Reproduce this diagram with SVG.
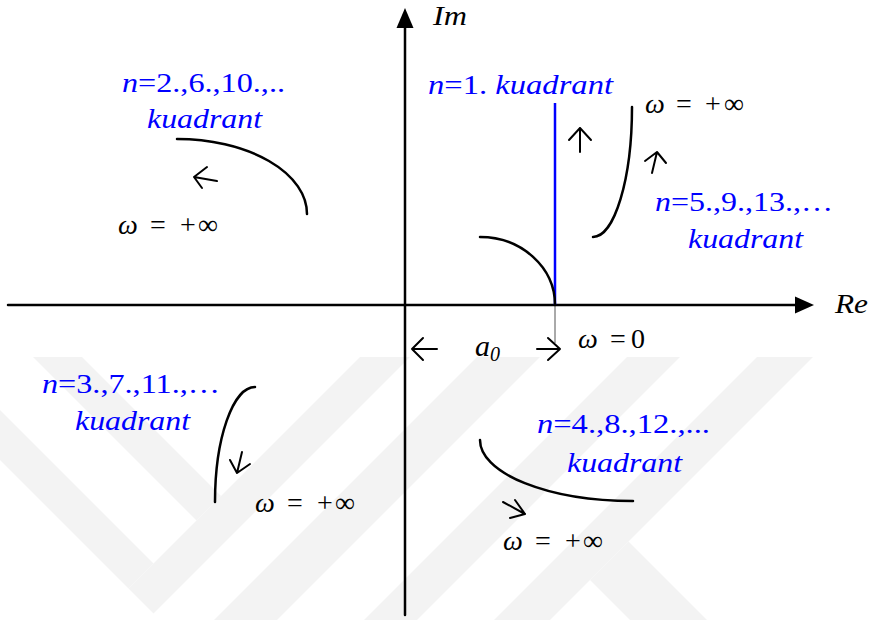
<svg xmlns="http://www.w3.org/2000/svg" width="870" height="620" viewBox="0 0 870 620">
<style>
text{font-family:'Liberation Serif','Times New Roman','DejaVu Serif',serif;}
.b{fill:#0000ff;font-size:27px;}
.k{fill:#000;font-size:28px;}
.i{font-style:italic;}
.ln{fill:none;stroke:#000;stroke-width:2.5;stroke-linecap:round;}
.ar{fill:none;stroke:#000;stroke-width:2;stroke-linecap:round;stroke-linejoin:round;}
.wm{fill:#f3f3f3;stroke:none;}
</style>
<rect width="870" height="620" fill="#fff"/>
<g id="watermark">
<polygon class="wm" points="360,357 410,357 153.5,613.5 128.5,588.5"/>
<polygon class="wm" points="0,410 0,460 128.5,588.5 153.5,563.5"/>
<polygon class="wm" points="33,357 82,357 221,496 196.5,520.5"/>
<polygon class="wm" points="477,357 540,357 277,620 214,620"/>
<polygon class="wm" points="627,357 680,357 417,620 364,620"/>
<polygon class="wm" points="757,357 813,357 550,620 494,620"/>
<polygon class="wm" points="628.5,541.5 707,620 630,620 590,580"/>
</g>
<g id="connectors">
<g id="re-axis"><path class="ln" d="M8,305 H798"/><polygon points="795,296.5 814,305 795,313.5" fill="#000"/></g>
<g id="im-axis"><path class="ln" d="M405,615 V26"/><polygon points="396.5,28 405,8 413.5,28" fill="#000"/></g>
<path d="M555,305 V343" stroke="#555" stroke-width="1" fill="none"/>
<path id="a0-left" class="ar" d="M437,349 H412 M423,338 L412,349 L423,360"/>
<path id="a0-right" class="ar" d="M537,349 H560 M548,338 L560,349 L548,360"/>
</g>
<g id="curve-n1">
<path d="M555,103 V305" stroke="#0000ff" stroke-width="2.5" fill="none"/>
<path class="ln" d="M480,237 A75,68 0 0 1 555,305"/>
<path class="ar" d="M580,152 V128 M569,140 L580,128 L591,140"/>
</g>
<g id="curve-n5">
<path class="ln" d="M593,237 A39,130 0 0 0 632,107"/>
<path class="ar" d="M652,173 L657,152 M645,161 L657,152 L666,163"/>
</g>
<g id="curve-n2">
<path class="ln" d="M177,139 A130,75 0 0 1 307,214"/>
<path class="ar" d="M217,181 L194,177 M207,167 L194,177 L202,188"/>
</g>
<g id="curve-n3">
<path class="ln" d="M255,387 A40,115 0 0 0 215,502"/>
<path class="ar" d="M242,452 L237,473 M230,460 L237,473 L250,464"/>
</g>
<g id="curve-n4">
<path class="ln" d="M480,440 A153,61 0 0 0 633,501"/>
<path class="ar" d="M503,502 L525,514 M515,500 L525,514 L510,518"/>
</g>
<g font-family="'Liberation Serif','Times New Roman',serif">
<g id="label-im"><text class="k i" x="433" y="25" font-size="26" textLength="34" lengthAdjust="spacingAndGlyphs">Im</text></g>
<g id="label-re"><text class="k i" x="835" y="313" textLength="33" lengthAdjust="spacingAndGlyphs">Re</text></g>
<g id="label-n1"><text class="b" x="428" y="94" textLength="185" lengthAdjust="spacingAndGlyphs"><tspan class="i">n</tspan>=1. <tspan class="i">kuadrant</tspan></text></g>
<g id="label-n2">
<text class="b" x="122" y="92" textLength="163" lengthAdjust="spacingAndGlyphs"><tspan class="i">n</tspan>=2.,6.,10.,..</text>
<text class="b i" x="147" y="128" textLength="115" lengthAdjust="spacingAndGlyphs">kuadrant</text>
</g>
<g id="label-n5">
<text class="b" x="655" y="211" textLength="178" lengthAdjust="spacingAndGlyphs"><tspan class="i">n</tspan>=5.,9.,13.,…</text>
<text class="b i" x="688" y="248" textLength="115" lengthAdjust="spacingAndGlyphs">kuadrant</text>
</g>
<g id="label-n3">
<text class="b" x="42" y="393" textLength="178" lengthAdjust="spacingAndGlyphs"><tspan class="i">n</tspan>=3.,7.,11.,…</text>
<text class="b i" x="75" y="430" textLength="115" lengthAdjust="spacingAndGlyphs">kuadrant</text>
</g>
<g id="label-n4">
<text class="b" x="537" y="433" textLength="173" lengthAdjust="spacingAndGlyphs"><tspan class="i">n</tspan>=4.,8.,12.,...</text>
<text class="b i" x="567" y="472" textLength="115" lengthAdjust="spacingAndGlyphs">kuadrant</text>
</g>
<g id="omega-inf-tl"><text class="k" y="234"><tspan class="i" x="118">ω</tspan><tspan x="150">=</tspan><tspan x="180">+</tspan><tspan x="198">∞</tspan></text></g>
<g id="omega-inf-tr"><text class="k" y="113"><tspan class="i" x="645">ω</tspan><tspan x="676">=</tspan><tspan x="705">+</tspan><tspan x="724">∞</tspan></text></g>
<g id="omega-inf-ll"><text class="k" y="512"><tspan class="i" x="255">ω</tspan><tspan x="287">=</tspan><tspan x="317">+</tspan><tspan x="335">∞</tspan></text></g>
<g id="omega-inf-lr"><text class="k" y="550"><tspan class="i" x="503">ω</tspan><tspan x="535">=</tspan><tspan x="565">+</tspan><tspan x="583">∞</tspan></text></g>
<g id="omega-zero"><text class="k" y="348"><tspan class="i" x="578">ω</tspan><tspan x="610">=</tspan><tspan x="631">0</tspan></text></g>
<g id="label-a0"><text class="i" x="475" y="356" font-size="30">a</text><text class="i" x="490" y="361" font-size="20">0</text></g>
</g>
</svg>
